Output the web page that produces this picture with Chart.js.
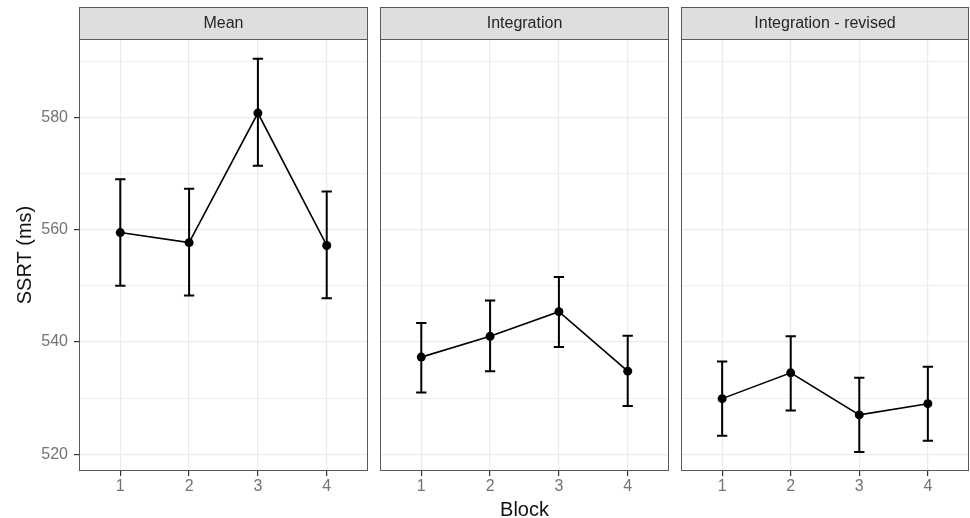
<!DOCTYPE html>
<html>
<head>
<meta charset="utf-8">
<script src="https://cdn.jsdelivr.net/npm/chart.js@4"></script>
<style>
  body { margin: 0; background: #fff; }
  #wrap { position: relative; width: 970px; height: 518px; overflow: hidden; }
  canvas { position: absolute; top: 0; }
</style>
</head>
<body>
<div id="wrap">
  <canvas id="p1" width="374" height="518" style="left:0px"></canvas>
  <canvas id="p2" width="301" height="518" style="left:374px"></canvas>
  <canvas id="p3" width="300" height="518" style="left:675px"></canvas>
</div>
<script>
// data
const blocks = [1, 2, 3, 4];
const panelTitles = ['Mean', 'Integration', 'Integration - revised'];
const yTicks = [520, 530, 540, 550, 560, 570, 580, 590];

const meanSSRT  = [559.5, 557.7, 580.8, 557.2];
const meanLower = [550.0, 548.3, 571.4, 547.8];
const meanUpper = [569.0, 567.3, 590.5, 566.8];

const integSSRT  = [537.3, 541.0, 545.4, 534.8];
const integLower = [531.0, 534.8, 539.1, 528.6];
const integUpper = [543.4, 547.4, 551.6, 541.1];

const revSSRT  = [529.9, 534.5, 527.0, 529.0];
const revLower = [523.3, 527.8, 520.4, 522.4];
const revUpper = [536.5, 541.0, 533.6, 535.6];

const FONT = '"Liberation Sans", Arial, sans-serif';

// strip header + panel border + error bars
const facetPlugin = {
  id: 'facet',
  beforeDatasetsDraw(chart, args, opts) {
    const { ctx, scales } = chart;
    ctx.save();
    ctx.strokeStyle = '#000';
    ctx.lineWidth = 2;
    opts.lower.forEach((lo, i) => {
      const x = scales.x.getPixelForValue(blocks[i]);
      const half = scales.x.getPixelForValue(blocks[i] + 0.075) - x;
      const y1 = scales.y.getPixelForValue(lo);
      const y2 = scales.y.getPixelForValue(opts.upper[i]);
      ctx.beginPath();
      ctx.moveTo(x, y1); ctx.lineTo(x, y2);
      ctx.moveTo(x - half, y1); ctx.lineTo(x + half, y1);
      ctx.moveTo(x - half, y2); ctx.lineTo(x + half, y2);
      ctx.stroke();
    });
    ctx.restore();
  },
  afterDraw(chart, args, opts) {
    const { ctx, chartArea: a } = chart;
    ctx.save();
    // panel border
    ctx.strokeStyle = '#595959';
    ctx.lineWidth = 1;
    ctx.strokeRect(a.left + 0.5, a.top + 0.5, a.right - a.left - 1, a.bottom - a.top - 1);
    // strip
    ctx.fillStyle = '#dedede';
    ctx.fillRect(a.left, 7, a.right - a.left, a.top - 7);
    ctx.strokeRect(a.left + 0.5, 7.5, a.right - a.left - 1, a.top - 7);
    ctx.fillStyle = '#262626';
    ctx.font = '16px ' + FONT;
    ctx.textAlign = 'center';
    ctx.textBaseline = 'middle';
    ctx.fillText(opts.title, (a.left + a.right) / 2, (7 + a.top) / 2 + 1);
    ctx.restore();
  }
};

function makePanel(id, idx, values, lower, upper, pad) {
  const first = idx === 0;
  const middle = idx === 1;
  new Chart(document.getElementById(id), {
    type: 'line',
    data: {
      datasets: [{
        data: blocks.map((b, i) => ({ x: b, y: values[i] })),
        borderColor: '#000',
        borderWidth: 1.6,
        backgroundColor: '#000',
        pointRadius: 4.5,
        pointBackgroundColor: '#000',
        pointBorderWidth: 0,
        tension: 0
      }]
    },
    options: {
      responsive: false,
      animation: false,
      layout: { padding: { top: 39, left: pad[0], right: pad[1], bottom: 0 } },
      plugins: {
        legend: { display: false },
        tooltip: { enabled: false },
        facet: { title: panelTitles[idx], lower: lower, upper: upper }
      },
      scales: {
        x: {
          type: 'linear',
          min: 0.4,
          max: 4.6,
          afterBuildTicks: s => { s.ticks = blocks.map(v => ({ value: v })); },
          afterFit: s => { s.height = 47; },
          border: { display: false },
          grid: { color: '#ebebeb', lineWidth: 1.2, tickLength: 5, tickColor: '#333' },
          ticks: { color: '#737373', font: { family: FONT, size: 16 }, padding: 1, maxRotation: 0 },
          title: {
            display: middle,
            text: 'Block',
            color: '#111',
            font: { family: FONT, size: 20 },
            padding: { top: 0, bottom: -4 }
          }
        },
        y: {
          min: 517,
          max: 594,
          afterBuildTicks: s => { s.ticks = yTicks.map(v => ({ value: v })); },
          afterFit: s => { s.width = first ? 79 : 0; },
          border: { display: false },
          grid: {
            color: '#ebebeb',
            lineWidth: c => (c.tick && c.tick.value % 20 === 0) ? 1.2 : 0.8,
            drawTicks: first,
            tickLength: 5,
            tickColor: c => (c.tick && c.tick.value % 20 === 0) ? '#333' : 'rgba(0,0,0,0)'
          },
          ticks: {
            display: first,
            color: '#737373',
            font: { family: FONT, size: 16 },
            padding: 6,
            callback: v => (v % 20 === 0 ? String(v) : '')
          },
          title: {
            display: first,
            text: 'SSRT (ms)',
            color: '#111',
            font: { family: FONT, size: 20 },
            padding: { top: 13, bottom: 13 }
          }
        }
      }
    },
    plugins: [facetPlugin]
  });
}

makePanel('p1', 0, meanSSRT, meanLower, meanUpper, [0, 6]);
makePanel('p2', 1, integSSRT, integLower, integUpper, [6, 6]);
makePanel('p3', 2, revSSRT, revLower, revUpper, [6, 6]);
</script>
</body>
</html>
